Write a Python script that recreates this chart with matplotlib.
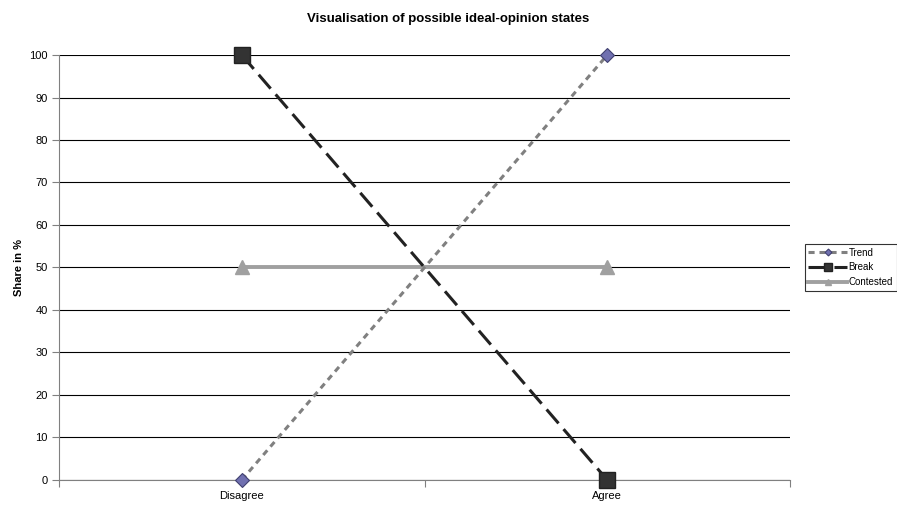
import matplotlib.pyplot as plt
import numpy as np

plt.rcParams['font.family'] = ['Liberation Sans', 'DejaVu Sans']

categories = ['Disagree', 'Agree']
trend = [0, 100]
brk = [100, 0]
contested = [50, 50]

fig = plt.figure(figsize=(8.97, 5.07), dpi=100)
ax = fig.add_axes([0.0658, 0.0533, 0.8149, 0.8382])

x = np.arange(len(categories))

ax.plot(x, trend, color='#808080', lw=2.2, linestyle=(0, (2, 1.6)),
        marker='D', markersize=7, markerfacecolor='#7070b0',
        markeredgecolor='#404070', markeredgewidth=0.8, label='Trend',
        zorder=4, clip_on=False)
ax.plot(x, brk, color='#222222', lw=2.2, linestyle=(0, (6, 2.5)),
        marker='s', markersize=11, markerfacecolor='#333333',
        markeredgecolor='#222222', label='Break', zorder=5, clip_on=False)
ax.plot(x, contested, color='#a0a0a0', lw=2.8, linestyle='-',
        marker='^', markersize=10, markerfacecolor='#a0a0a0',
        markeredgecolor='#a0a0a0', label='Contested', zorder=3, clip_on=False)

ax.set_xlim(-0.5, 1.5)
ax.set_ylim(0, 100)
ax.set_yticks(np.arange(0, 101, 10))
ax.set_xticks([-0.5, 0.5, 1.5])
ax.set_xticklabels([])
ax.set_xticks(x, minor=True)
ax.set_xticklabels(categories, minor=True)
ax.tick_params(axis='x', which='minor', length=0, labelsize=8, pad=8)
ax.tick_params(axis='x', which='major', length=5, color='#808080')
ax.tick_params(axis='y', length=5, color='#808080', labelsize=8, pad=3)

ax.yaxis.grid(True, color='black', lw=0.8)
ax.set_axisbelow(True)
for side in ['top', 'right']:
    ax.spines[side].set_visible(False)
for side in ['left', 'bottom']:
    ax.spines[side].set_color('#808080')

ax.set_ylabel('Share in %', fontsize=8, fontweight='bold', labelpad=4)
fig.suptitle('Visualisation of possible ideal-opinion states',
             fontsize=9.5, fontweight='bold', y=0.975)

leg = ax.legend(loc='center left', bbox_to_anchor=(1.02, 0.5), fontsize=7,
                frameon=True, fancybox=False, edgecolor='black',
                handlelength=4, borderpad=0.4, labelspacing=0.5,
                handletextpad=0.1, borderaxespad=0, markerscale=0.5)
leg.get_frame().set_linewidth(0.8)

fig.savefig('out.png', dpi=100)
